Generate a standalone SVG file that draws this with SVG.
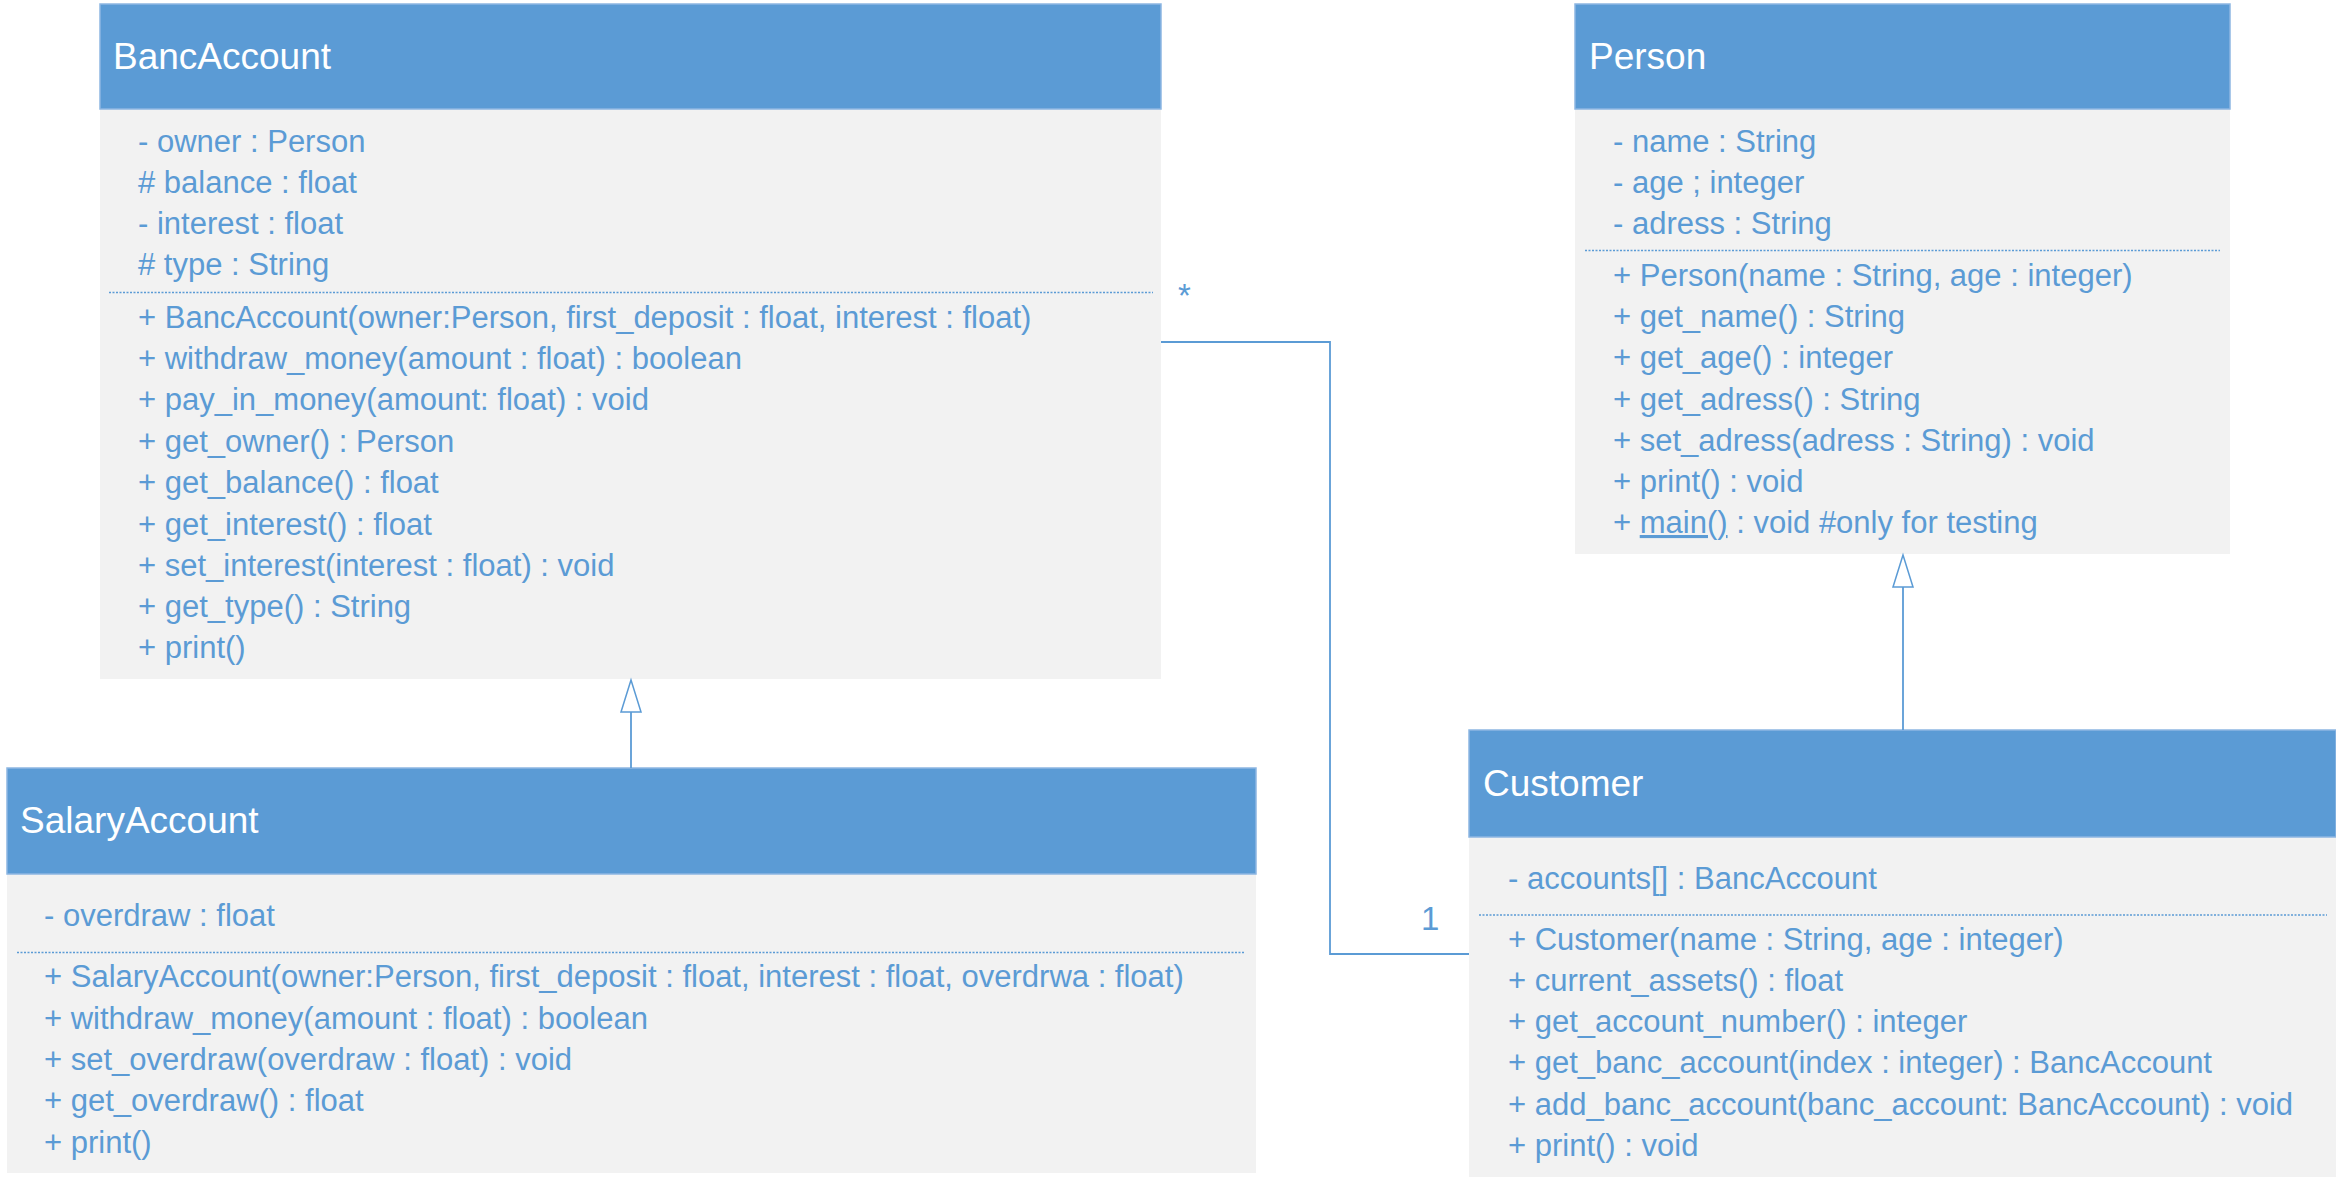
<svg xmlns="http://www.w3.org/2000/svg" width="2336" height="1181" viewBox="0 0 2336 1181">
<style>
.hdr{fill:#5B9BD5;stroke:#8DB6E2;stroke-width:1.5}
.body{fill:#F2F2F2}
.title{font-family:"Liberation Sans",Arial,sans-serif;font-size:37px;fill:#FFFFFF}
.t{font-family:"Liberation Sans",Arial,sans-serif;font-size:31px;fill:#5B9BD5}
.sep{stroke:#5B9BD5;stroke-width:1.5;stroke-dasharray:2 1.5;fill:none}
.conn{stroke:#5B9BD5;stroke-width:1.8;fill:none}
.gen{stroke:#5B9BD5;stroke-width:1.5;fill:#FFFFFF}
.lbl{font-family:"Liberation Sans",Arial,sans-serif;font-size:33px;fill:#5B9BD5}
</style>
<rect width="2336" height="1181" fill="#FFFFFF"/>

<g id="BancAccount">
<rect class="body" x="100" y="109" width="1061" height="570"/>
<rect class="hdr" x="100" y="4" width="1061" height="105"/>
<text class="title" x="113" y="69">BancAccount</text>
<text class="t" x="138" y="152">- owner : Person</text>
<text class="t" x="138" y="193"># balance : float</text>
<text class="t" x="138" y="234">- interest : float</text>
<text class="t" x="138" y="275"># type : String</text>
<line class="sep" x1="109" y1="292.5" x2="1153" y2="292.5"/>
<text class="t" x="138" y="328">+ BancAccount(owner:Person, first_deposit : float, interest : float)</text>
<text class="t" x="138" y="369">+ withdraw_money(amount : float) : boolean</text>
<text class="t" x="138" y="410">+ pay_in_money(amount: float) : void</text>
<text class="t" x="138" y="452">+ get_owner() : Person</text>
<text class="t" x="138" y="493">+ get_balance() : float</text>
<text class="t" x="138" y="535">+ get_interest() : float</text>
<text class="t" x="138" y="576">+ set_interest(interest : float) : void</text>
<text class="t" x="138" y="617">+ get_type() : String</text>
<text class="t" x="138" y="658">+ print()</text>
</g>

<g id="Person">
<rect class="body" x="1575" y="109" width="655" height="445"/>
<rect class="hdr" x="1575" y="4" width="655" height="105"/>
<text class="title" x="1589" y="69">Person</text>
<text class="t" x="1613" y="152">- name : String</text>
<text class="t" x="1613" y="193">- age ; integer</text>
<text class="t" x="1613" y="234">- adress : String</text>
<line class="sep" x1="1585" y1="250.5" x2="2220" y2="250.5"/>
<text class="t" x="1613" y="286">+ Person(name : String, age : integer)</text>
<text class="t" x="1613" y="327">+ get_name() : String</text>
<text class="t" x="1613" y="368">+ get_age() : integer</text>
<text class="t" x="1613" y="410">+ get_adress() : String</text>
<text class="t" x="1613" y="451">+ set_adress(adress : String) : void</text>
<text class="t" x="1613" y="492">+ print() : void</text>
<text class="t" x="1613" y="533">+ <tspan text-decoration="underline">main()</tspan> : void #only for testing</text>
</g>

<g id="SalaryAccount">
<rect class="body" x="7" y="874" width="1249" height="299"/>
<rect class="hdr" x="7" y="768" width="1249" height="106"/>
<text class="title" x="20" y="833">SalaryAccount</text>
<text class="t" x="44" y="926">- overdraw : float</text>
<line class="sep" x1="17" y1="952.5" x2="1245" y2="952.5"/>
<text class="t" x="44" y="987">+ SalaryAccount(owner:Person, first_deposit : float, interest : float, overdrwa : float)</text>
<text class="t" x="44" y="1029">+ withdraw_money(amount : float) : boolean</text>
<text class="t" x="44" y="1070">+ set_overdraw(overdraw : float) : void</text>
<text class="t" x="44" y="1111">+ get_overdraw() : float</text>
<text class="t" x="44" y="1153">+ print()</text>
</g>

<g id="Customer">
<rect class="body" x="1469" y="837" width="867" height="340"/>
<rect class="hdr" x="1469" y="730" width="867" height="107"/>
<text class="title" x="1483" y="796">Customer</text>
<text class="t" x="1508" y="889">- accounts[] : BancAccount</text>
<line class="sep" x1="1479" y1="915" x2="2327" y2="915"/>
<text class="t" x="1508" y="950">+ Customer(name : String, age : integer)</text>
<text class="t" x="1508" y="991">+ current_assets() : float</text>
<text class="t" x="1508" y="1032">+ get_account_number() : integer</text>
<text class="t" x="1508" y="1073">+ get_banc_account(index : integer) : BancAccount</text>
<text class="t" x="1508" y="1115">+ add_banc_account(banc_account: BancAccount) : void</text>
<text class="t" x="1508" y="1156">+ print() : void</text>
</g>

<g id="connectors">
<path class="conn" d="M1161,342 H1330 V954 H1469"/>
<text class="lbl" x="1178" y="307">*</text>
<text class="lbl" x="1421" y="930">1</text>
<line class="conn" x1="631" y1="712" x2="631" y2="768"/>
<polygon class="gen" points="631,680 621,712 641,712"/>
<line class="conn" x1="1903" y1="587" x2="1903" y2="730"/>
<polygon class="gen" points="1903,555 1893,587 1913,587"/>
</g>
</svg>
